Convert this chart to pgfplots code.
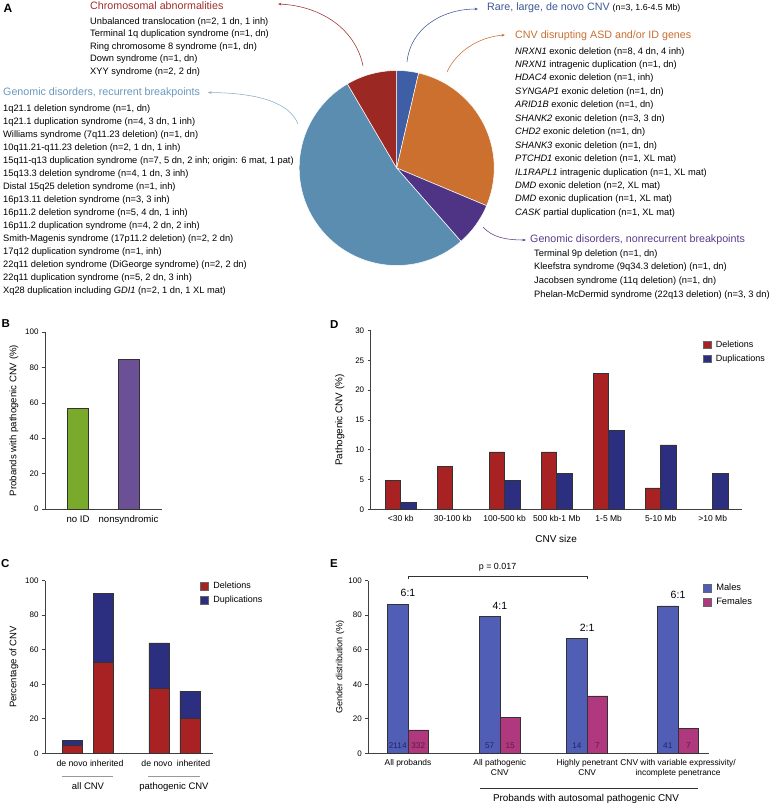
\documentclass[border=0pt]{standalone}
\usepackage{pgfplots}
\pgfplotsset{compat=1.18}
\usepackage{fontspec}
\setmainfont{Liberation Sans}
\usetikzlibrary{arrows.meta}

\definecolor{delred}{RGB}{168,34,36}
\definecolor{dupblue}{RGB}{44,46,128}
\definecolor{malecol}{RGB}{80,94,182}
\definecolor{femcol}{RGB}{176,56,126}
\definecolor{nogreen}{RGB}{122,170,44}
\definecolor{nspurple}{RGB}{108,80,150}
\definecolor{pred}{RGB}{155,40,35}
\definecolor{psteel}{RGB}{91,141,176}
\definecolor{porange}{RGB}{204,112,48}
\definecolor{ppurple}{RGB}{79,52,134}
\definecolor{pblue}{RGB}{62,94,166}
\definecolor{hred}{RGB}{160,45,45}
\definecolor{hsteel}{RGB}{104,152,190}
\definecolor{hblue}{RGB}{60,88,150}
\definecolor{horange}{RGB}{200,110,50}
\definecolor{hpurple}{RGB}{90,58,140}

\newcommand{\fs}[2]{\fontsize{#1}{#2}\selectfont}

\pgfplotsset{
  panel/.style={
    scale only axis,
    axis x line*=bottom, axis y line*=left,
    axis line style={draw=black!75, line width=0.6pt},
    ytick style={draw=black!75, line width=0.6pt},
    xtick style={draw=none},
    tick align=outside,
    major tick length=3pt,
    ymin=0,
    /pgf/number format/assume math mode=true,
    y tick label style={font=\fs{8}{10}},
    x tick label style={font=\fs{8.5}{10}, align=center},
    ylabel style={anchor=center},
    clip=false,
    legend style={draw=none, fill=none, inner sep=0pt, anchor=north west,
      font=\fs{9}{11}, cells={anchor=west}, row sep=2pt,
      /tikz/every odd column/.append style={column sep=3pt}},
  },
  sq/.style={legend image code/.code={\draw[##1, draw=black!60, line width=0.3pt] (0pt,-3.8pt) rectangle (7.6pt,3.8pt);}},
  barline/.style={draw=black!80, line width=0.5pt},
}

% pie counts (panel A)
\def\nRare{3}
\def\nGenes{23}
\def\nNonrec{6}
\def\nRecur{44}
\def\nChrom{7}

\begin{document}
\begin{tikzpicture}
\begin{scope}[x=1pt,y=-1pt]
\path[use as bounding box] (0,0) rectangle (768,806);
\end{scope}

% ---------------- A: pie ----------------
\pgfmathsetmacro\tot{\nRare+\nGenes+\nNonrec+\nRecur+\nChrom}
\pgfmathsetmacro\aA{90}
\pgfmathsetmacro\aB{\aA-\nRare/\tot*360}
\pgfmathsetmacro\aC{\aB-\nGenes/\tot*360}
\pgfmathsetmacro\aD{\aC-\nNonrec/\tot*360}
\pgfmathsetmacro\aE{\aD-\nRecur/\tot*360}
\pgfmathsetmacro\aF{\aE-\nChrom/\tot*360}
\begin{axis}[at={(396.7pt,-168pt)}, anchor=center, scale only axis,
  width=195pt, height=195pt, xmin=-1, xmax=1, ymin=-1, ymax=1,
  hide axis, clip=false]
\addplot[fill=pblue, draw=white, line width=0.5pt, domain=\aB:\aA, samples=20] ({cos(x)},{sin(x)}) -- (axis cs:0,0) -- cycle;
\addplot[fill=porange, draw=white, line width=0.5pt, domain=\aC:\aB, samples=60] ({cos(x)},{sin(x)}) -- (axis cs:0,0) -- cycle;
\addplot[fill=ppurple, draw=white, line width=0.5pt, domain=\aD:\aC, samples=20] ({cos(x)},{sin(x)}) -- (axis cs:0,0) -- cycle;
\addplot[fill=psteel, draw=white, line width=0.5pt, domain=\aE:\aD, samples=90] ({cos(x)},{sin(x)}) -- (axis cs:0,0) -- cycle;
\addplot[fill=pred, draw=white, line width=0.5pt, domain=\aF:\aE, samples=20] ({cos(x)},{sin(x)}) -- (axis cs:0,0) -- cycle;
\end{axis}

% ---------------- B ----------------
\begin{axis}[panel, at={(45pt,-509pt)}, anchor=south west, width=117pt, height=177pt,
  ymax=100, ytick={0,20,...,100}, xmin=-0.653, xmax=1.663,
  xtick={0,1}, xticklabels={no ID, nonsyndromic},
  x tick label style={font=\fs{9.6}{11}},
  ylabel={Probands with pathogenic CNV (\%)},
  ylabel style={at={(axis description cs:-0.265,0.5)}, font=\fs{9.6}{11}},
  ybar, bar width=20.5pt]
\addplot[fill=nogreen, barline, bar shift=0pt] coordinates {(0,57.1)};
\addplot[fill=nspurple, barline, bar shift=0pt] coordinates {(1,84.5)};
\end{axis}

% ---------------- C ----------------
\begin{axis}[panel, at={(45pt,-753.3pt)}, anchor=south west, width=168pt, height=172.6pt,
  ymax=100, ytick={0,20,...,100}, xmin=-0.871, xmax=4.548,
  xtick={0,1.12,2.74,3.92}, xticklabels={de novo, inherited, de novo, inherited},
  x tick label style={font=\fs{8.7}{11}},
  ylabel={Percentage of CNV},
  ylabel style={at={(axis description cs:-0.185,0.5)}, font=\fs{9.5}{11}},
  legend style={at={(axis description cs:0.924,1.003)}},
  ybar stacked, bar width=20pt]
\addplot[fill=delred, barline, sq] coordinates {(0,4.6) (1,52.7) (2.8,37.5) (3.8,20.3)};
\addplot[fill=dupblue, barline, sq] coordinates {(0,3.0) (1,39.8) (2.8,26.5) (3.8,15.7)};
\legend{Deletions, Duplications}
\end{axis}

% ---------------- D ----------------
\begin{axis}[panel, at={(370.7pt,-509.3pt)}, anchor=south west, width=371pt, height=178.6pt,
  ymax=30, ytick={0,5,...,30}, xmin=-0.577, xmax=6.558,
  xtick={0,...,6},
  xticklabels={{<30 kb},{30-100 kb},{100-500 kb},{500 kb-1 Mb},{1-5 Mb},{5-10 Mb},{>10 Mb}},
  xlabel={CNV size},
  xlabel style={at={(axis description cs:0.5,-0.166)}, anchor=center, font=\fs{10}{12}},
  ylabel={Pathogenic CNV (\%)},
  ylabel style={at={(axis description cs:-0.083,0.5)}, font=\fs{9.9}{12}},
  legend style={at={(axis description cs:0.895,0.956)}},
  ybar=0pt, bar width=15.5pt]
\addplot[fill=delred, barline, sq] coordinates {(0,4.82) (1,7.23) (2,9.64) (3,9.64) (4,22.89) (5,3.61)};
\addplot[fill=dupblue, barline, sq] coordinates {(0,1.20) (2,4.82) (3,6.02) (4,13.25) (5,10.84) (6,6.02)};
\legend{Deletions, Duplications}
\end{axis}

% ---------------- E ----------------
\begin{axis}[panel, at={(368.3pt,-753.3pt)}, anchor=south west, width=340.7pt, height=172.6pt,
  ymax=100, ytick={0,20,...,100}, xmin=-0.441, xmax=3.344,
  xtick={0,1.02,1.99,3},
  xticklabels={All probands, All pathogenic\\CNV, Highly penetrant\\CNV,
    CNV with variable expressivity/\\incomplete penetrance},
  x tick label style={font=\fs{8.4}{10}},
  ylabel={Gender distribution (\%)},
  ylabel style={at={(axis description cs:-0.083,0.5)}, font=\fs{9}{11}},
  legend style={at={(axis description cs:0.983,0.994)}, font=\fs{9.3}{11}},
  ybar=0pt, bar width=20.5pt]
\addplot[fill=malecol, barline, sq, nodes near coords, point meta=explicit symbolic,
  every node near coord/.append style={font=\fs{10.5}{12}, black, xshift=10.25pt, yshift=3.5pt}]
  coordinates {(0,86.4)[6:1] (1.02,79.2)[4:1] (1.99,66.7)[2:1] (3,85.4)[6:1]};
\addplot[fill=femcol, barline, sq] coordinates {(0,13.6) (1.02,20.8) (1.99,33.3) (3,14.6)};
\legend{Males, Females}
\draw[black!80, line width=0.5pt] (axis cs:0,101) -- (axis cs:0,102.7) -- (axis cs:1.99,102.7) -- (axis cs:1.99,101);
\node[font=\fs{8.9}{10}] at (axis cs:0.995,108) {p = 0.017};
\begin{scope}[every node/.style={font=\fs{8.2}{10}, anchor=base, inner sep=0pt, yshift=5.3pt}]
\node[text=dupblue!80!black, xshift=-10.25pt] at (axis cs:0,0) {2114};
\node[text=femcol!50!black, xshift=10.25pt] at (axis cs:0,0) {332};
\node[text=dupblue!80!black, xshift=-10.25pt] at (axis cs:1.02,0) {57};
\node[text=femcol!50!black, xshift=10.25pt] at (axis cs:1.02,0) {15};
\node[text=dupblue!80!black, xshift=-10.25pt] at (axis cs:1.99,0) {14};
\node[text=femcol!50!black, xshift=10.25pt] at (axis cs:1.99,0) {7};
\node[text=dupblue!80!black, xshift=-10.25pt] at (axis cs:3,0) {41};
\node[text=femcol!50!black, xshift=10.25pt] at (axis cs:3,0) {7};
\end{scope}
\end{axis}

% ---------------- texts, connectors ----------------
\begin{scope}[x=1pt,y=-1pt]
\tikzset{every node/.style={inner sep=0pt}}
% panel letters
\node[anchor=base west, font=\bfseries\fs{12}{14}] at (3.5,12.7) {A};
\node[anchor=base west, font=\bfseries\fs{11.5}{14}] at (1.5,327.3) {B};
\node[anchor=base west, font=\bfseries\fs{11.5}{14}] at (1,567.3) {C};
\node[anchor=base west, font=\bfseries\fs{11.5}{14}] at (330,328.3) {D};
\node[anchor=base west, font=\bfseries\fs{11.5}{14}] at (330,567.3) {E};

% left texts
\node[anchor=base west, text=hred, font=\fs{10.7}{13}] at (90,9.8) {Chromosomal abnormalities};
\node[anchor=base west, font=\fs{9.3}{12.5}] at (90,24) {\begin{tabular}[t]{@{}l@{}}
Unbalanced translocation (n=2, 1 dn, 1 inh)\\
Terminal 1q duplication syndrome (n=1, dn)\\
Ring chromosome 8 syndrome (n=1, dn)\\
Down syndrome (n=1, dn)\\
XYY syndrome (n=2, 2 dn)
\end{tabular}};
\node[anchor=base west, text=hsteel, font=\fs{10.7}{13}] at (3,95.5) {Genomic disorders, recurrent breakpoints};
\node[anchor=base west, font=\fs{9.3}{13}] at (3,111.6) {\begin{tabular}[t]{@{}l@{}}
1q21.1 deletion syndrome (n=1, dn)\\
1q21.1 duplication syndrome (n=4, 3 dn, 1 inh)\\
Williams syndrome (7q11.23 deletion) (n=1, dn)\\
10q11.21-q11.23 deletion (n=2, 1 dn, 1 inh)\\
15q11-q13 duplication syndrome (n=7, 5 dn, 2 inh; origin: 6 mat, 1 pat)\\
15q13.3 deletion syndrome (n=4, 1 dn, 3 inh)\\
Distal 15q25 deletion syndrome (n=1, inh)\\
16p13.11 deletion syndrome (n=3, 3 inh)\\
16p11.2 deletion syndrome (n=5, 4 dn, 1 inh)\\
16p11.2 duplication syndrome (n=4, 2 dn, 2 inh)\\
Smith-Magenis syndrome (17p11.2 deletion) (n=2, 2 dn)\\
17q12 duplication syndrome (n=1, inh)\\
22q11 deletion syndrome (DiGeorge syndrome) (n=2, 2 dn)\\
22q11 duplication syndrome (n=5, 2 dn, 3 inh)\\
Xq28 duplication including \textit{GDI1} (n=2, 1 dn, 1 XL mat)
\end{tabular}};

% right texts
\node[anchor=base west, font=\fs{10.7}{13}] at (487,10.8) {\textcolor{hblue}{Rare, large, de novo CNV} {\fs{8.8}{10}(n=3, 1.6-4.5 Mb)}};
\node[anchor=base west, text=horange, font=\fs{10.7}{13}] at (515,38) {CNV disrupting ASD and/or ID genes};
\node[anchor=base west, font=\fs{9.3}{13.45}] at (515,54) {\begin{tabular}[t]{@{}l@{}}
\textit{NRXN1} exonic deletion (n=8, 4 dn, 4 inh)\\
\textit{NRXN1} intragenic duplication (n=1, dn)\\
\textit{HDAC4} exonic deletion (n=1, inh)\\
\textit{SYNGAP1} exonic deletion (n=1, dn)\\
\textit{ARID1B} exonic deletion (n=1, dn)\\
\textit{SHANK2} exonic deletion (n=3, 3 dn)\\
\textit{CHD2} exonic deletion (n=1, dn)\\
\textit{SHANK3} exonic deletion (n=1, dn)\\
\textit{PTCHD1} exonic deletion (n=1, XL mat)\\
\textit{IL1RAPL1} intragenic duplication (n=1, XL mat)\\
\textit{DMD} exonic deletion (n=2, XL mat)\\
\textit{DMD} exonic duplication (n=1, XL mat)\\
\textit{CASK} partial duplication (n=1, XL mat)
\end{tabular}};
\node[anchor=base west, text=hpurple, font=\fs{10.7}{13}] at (530,242.8) {Genomic disorders, nonrecurrent breakpoints};
\node[anchor=base west, font=\fs{9.3}{13.6}] at (534,256.3) {\begin{tabular}[t]{@{}l@{}}
Terminal 9p deletion (n=1, dn)\\
Kleefstra syndrome (9q34.3 deletion) (n=1, dn)\\
Jacobsen syndrome (11q deletion) (n=1, dn)\\
Phelan-McDermid syndrome (22q13 deletion) (n=3, 3 dn)
\end{tabular}};

% connectors
\tikzset{conn/.style={line width=0.55pt, -{Stealth[length=3.5pt,width=2.6pt]}}}
\draw[conn, hred] (363,66) .. controls (356,30) and (322,6) .. (278,4);
\draw[conn, hblue] (407,62) .. controls (410,30) and (440,9) .. (478,9);
\draw[conn, horange] (447,72) .. controls (456,52) and (478,37) .. (505,35);
\draw[conn, hsteel!80] (298,124) .. controls (290,104) and (262,93) .. (208,92.5);
\draw[conn, hpurple] (483,227) .. controls (492,237) and (505,240) .. (526,240);

% C group lines
\draw[black!40, line width=1pt] (62,776) -- (113,776);
\draw[black!40, line width=1pt] (148,776) -- (200,776);
\node[anchor=base, font=\fs{9.5}{11}] at (88,789.4) {all CNV};
\node[anchor=base, font=\fs{9.5}{11}] at (174,789.4) {pathogenic CNV};

% E bottom line
\draw[black!80, line width=0.6pt] (480,788.3) -- (697.7,788.3);
\node[anchor=base, font=\fs{9.9}{12}] at (586,801.5) {Probands with autosomal pathogenic CNV};
\end{scope}
\end{tikzpicture}
\end{document}
